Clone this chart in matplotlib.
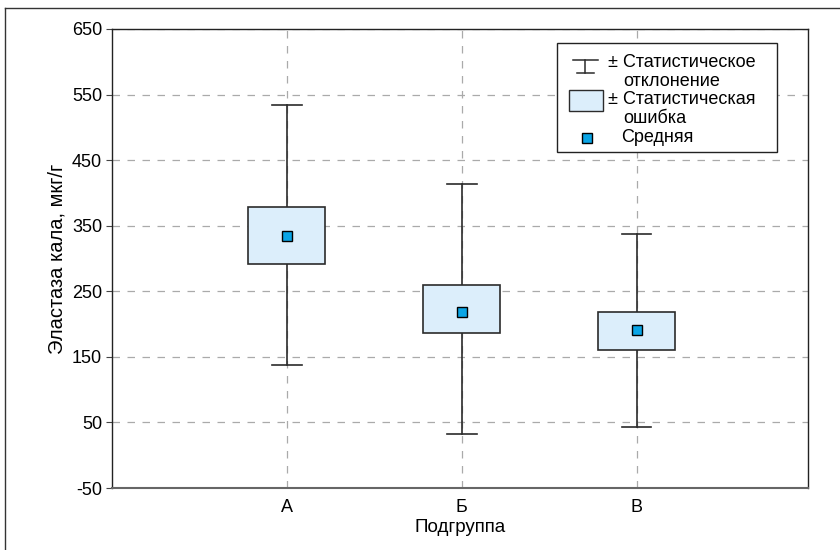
import matplotlib
matplotlib.use("Agg")
import matplotlib.pyplot as plt
from matplotlib.patches import Rectangle
from matplotlib.lines import Line2D

plt.rcParams['font.family'] = ['Liberation Sans', 'DejaVu Sans']
plt.rcParams['axes.unicode_minus'] = False

# data
groups = ['А', 'Б', 'В']
means = [334, 219, 191]
se_low = [292, 187, 160]
se_high = [378, 260, 219]
sd_low = [137, 32, 43]
sd_high = [534, 413, 337]
y_ticks = [-50, 50, 150, 250, 350, 450, 550, 650]

box_face = '#dceefb'
mean_color = '#0aa5e6'
edge = '#2b2b2b'

fig = plt.figure(figsize=(8.4, 5.5), dpi=100)
ax = fig.add_axes([0.1333, 0.1127, 0.8286, 0.8346])

# figure frame (left/top lines)
fig.add_artist(Line2D([5 / 840, 5 / 840], [0, 1 - 8 / 550], color='#333333', lw=1.0))
fig.add_artist(Line2D([5 / 840, 1], [1 - 8 / 550, 1 - 8 / 550], color='#333333', lw=1.0))

xs = list(range(1, len(groups) + 1))
box_w = 0.44
cap = 0.085

for x, m, lo, hi, dlo, dhi in zip(xs, means, se_low, se_high, sd_low, sd_high):
    ax.plot([x, x], [hi, dhi], color=edge, lw=1.2, zorder=3)
    ax.plot([x, x], [dlo, lo], color=edge, lw=1.2, zorder=3)
    ax.plot([x - cap, x + cap], [dhi, dhi], color=edge, lw=1.2, zorder=3)
    ax.plot([x - cap, x + cap], [dlo, dlo], color=edge, lw=1.2, zorder=3)
    ax.add_patch(Rectangle((x - box_w / 2, lo), box_w, hi - lo,
                           facecolor=box_face, edgecolor=edge, lw=1.2, zorder=4))
ax.plot(xs, means, 's', ms=7, mfc=mean_color, mec='black', mew=1.0, zorder=5, ls='none')

ax.set_xlim(0, 3.98)
ax.set_ylim(-50, 650)
ax.set_yticks(y_ticks)
ax.set_xticks(xs)
ax.set_xticklabels(groups)
ax.tick_params(axis='x', length=0, pad=8, labelsize=13)
ax.tick_params(axis='y', length=4, width=0.8, color='#444444', labelsize=13, pad=3)
ax.grid(True, color='#aaaaaa', ls=(0, (6, 6)), lw=0.9)
ax.set_axisbelow(True)
for s in ax.spines.values():
    s.set_color('#222222')
    s.set_linewidth(1.0)
ax.spines['bottom'].set_color('#666666')
ax.spines['bottom'].set_linewidth(1.5)

ax.set_ylabel('Эластаза кала, мкг/г', fontsize=14.5, labelpad=4)
ax.set_xlabel('Подгруппа', fontsize=13.5, labelpad=2)

# hand-drawn legend (axes fraction)
T = ax.transAxes
ax.add_patch(Rectangle((0.639, 0.732), 0.316, 0.237, transform=T, facecolor='white',
                       edgecolor='#222222', lw=1.0, zorder=6))
ax.add_line(Line2D([0.662, 0.699], [0.933, 0.933], transform=T, color=edge, lw=1.1, zorder=7))
ax.add_line(Line2D([0.680, 0.680], [0.933, 0.904], transform=T, color=edge, lw=1.1, zorder=7))
ax.add_line(Line2D([0.668, 0.693], [0.904, 0.904], transform=T, color=edge, lw=1.1, zorder=7))
ax.add_patch(Rectangle((0.657, 0.822), 0.049, 0.046, transform=T, facecolor=box_face,
                       edgecolor=edge, lw=1.0, zorder=7))
ax.plot([0.682], [0.762], 's', ms=7, mfc=mean_color, mec='black', mew=1.0,
        transform=T, zorder=7)
kw = dict(transform=T, fontsize=13, va='center', ha='left', zorder=8)
ax.text(0.712, 0.928, '± Статистическое', **kw)
ax.text(0.734, 0.886, 'отклонение', **kw)
ax.text(0.712, 0.846, '± Статистическая', **kw)
ax.text(0.734, 0.806, 'ошибка', **kw)
ax.text(0.731, 0.764, 'Средняя', **kw)

fig.savefig('out.png', dpi=100)
